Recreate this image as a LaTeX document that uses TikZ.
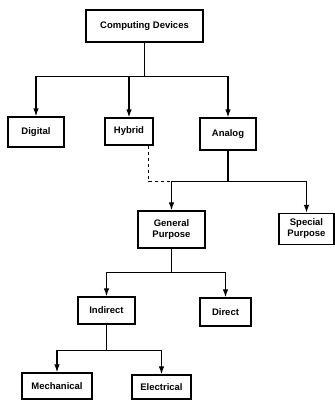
\documentclass[tikz,border=0pt]{standalone}
\usepackage{fontspec}
\setmainfont{Liberation Sans}
\usetikzlibrary{arrows.meta}
\tikzset{
    dev-box/.style = {draw, line width=1.3pt, rectangle, align=center, inner sep=2pt, font=\bfseries\fontsize{9.5}{11}\selectfont},
    dev-arrow/.style = {line width=1.2pt, -{Latex[length=8pt,width=5.5pt]}},
}

\begin{document}
\begin{tikzpicture}[x=1pt,y=-1pt]
\useasboundingbox (0,0) rectangle (335,400);
% top level
\node[dev-box, minimum width=117pt, minimum height=32pt] (comp) at (144.5,26) {Computing Devices};
\node[dev-box, minimum width=56pt, minimum height=30pt] (digital) at (36,132) {Digital};
\node[dev-box, minimum width=48pt, minimum height=27pt] (hybrid) at (129,131.5) {Hybrid};
\node[dev-box, minimum width=56pt, minimum height=32pt] (analog) at (228,134) {Analog};
% analog branch
\node[dev-box, minimum width=67pt, minimum height=37pt] (general) at (171.5,229.5) {General\\Purpose};
\node[dev-box, minimum width=55pt, minimum height=31pt] (special) at (306.5,229) {Special\\Purpose};
\node[dev-box, minimum width=57pt, minimum height=27pt] (indirect) at (106.5,310.5) {Indirect};
\node[dev-box, minimum width=51pt, minimum height=28pt] (direct) at (225.5,312) {Direct};
\node[dev-box, minimum width=70pt, minimum height=26pt] (mech) at (57,386) {Mechanical};
\node[dev-box, minimum width=59pt, minimum height=24pt] (elec) at (161.5,387) {Electrical};

% connectors
\draw[line width=1.2pt] (comp.south) -- ++(0,34) coordinate (j1);
\draw[dev-arrow] (j1) -| (digital.north);
\draw[dev-arrow] (j1) -| (hybrid.north);
\draw[dev-arrow] (j1) -| (analog.north);

\draw[line width=1.2pt] (analog.south) -- ++(0,31) coordinate (j2);
\draw[dev-arrow] (j2) -| (general.north);
\draw[dev-arrow] (j2) -| (special.north);
\draw[line width=1.2pt, dashed] ([xshift=-5pt]hybrid.south east) |- (general.north |- j2);

\draw[line width=1.2pt] (general.south) -- ++(0,24) coordinate (j3);
\draw[dev-arrow] (j3) -| (indirect.north);
\draw[dev-arrow] (j3) -| (direct.north);

\draw[line width=1.2pt] (indirect.south) -- ++(0,26) coordinate (j4);
\draw[dev-arrow] (j4) -| (mech.north);
\draw[dev-arrow] (j4) -| (elec.north);
\end{tikzpicture}
\end{document}
